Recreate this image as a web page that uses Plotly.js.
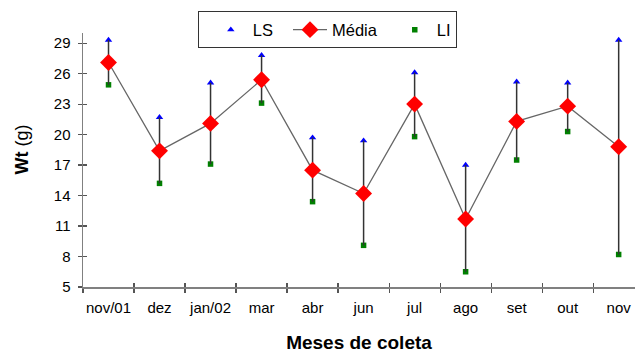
<!DOCTYPE html>
<html>
<head>
<meta charset="utf-8">
<script src="https://cdn.plot.ly/plotly-3.0.1.min.js"></script>
<style>html,body{margin:0;padding:0;background:#fff;}#chart{width:635px;height:353px;}</style>
</head>
<body>
<div id="chart"></div>
<script>
const months = ["nov/01","dez","jan/02","mar","abr","jun","jul","ago","set","out","nov"];
const LS    = [29.3, 21.7, 25.1, 27.8, 19.7, 19.4, 26.1, 17.0, 25.2, 25.1, 29.3];
const media = [27.1, 18.4, 21.1, 25.4, 16.5, 14.2, 23.0, 11.7, 21.3, 22.8, 18.8];
const LI    = [24.9, 15.2, 17.1, 23.1, 13.4,  9.1, 19.8,  6.5, 17.5, 20.3,  8.2];
const yTicks = [5, 8, 11, 14, 17, 20, 23, 26, 29];

const font = "Liberation Sans, Arial, sans-serif";

const tLS = {
  x: months, y: LS, name: "LS", type: "scatter", mode: "markers",
  marker: {symbol: "triangle-up", size: 6.5, color: "#0000ff"},
  cliponaxis: false, legendrank: 1
};
const tMedia = {
  x: months, y: media, name: "Média", type: "scatter", mode: "lines+markers",
  line: {color: "#666666", width: 1.3},
  marker: {symbol: "diamond", size: 13, color: "#ff0000"},
  error_y: {
    type: "data", symmetric: false,
    array: LS.map((v, i) => v - media[i]),
    arrayminus: media.map((v, i) => v - LI[i]),
    color: "#333333", thickness: 1.5, width: 0
  },
  cliponaxis: false, legendrank: 2
};
const tLI = {
  x: months, y: LI, name: "LI", type: "scatter", mode: "markers",
  marker: {symbol: "square", size: 5.5, color: "#008000"},
  cliponaxis: false, legendrank: 3
};
const tDummy = {
  x: months, y: media, xaxis: "x2", yaxis: "y2", showlegend: false,
  type: "scatter", mode: "markers", marker: {opacity: 0}, hoverinfo: "skip"
};

const layout = {
  width: 635, height: 353,
  margin: {l: 83, r: 0, t: 32.5, b: 66.3},
  paper_bgcolor: "#ffffff", plot_bgcolor: "#ffffff",
  font: {family: font, color: "#000000", size: 15},
  showlegend: true,
  legend: {
    orientation: "h", x: 0.208, y: 1.085, xanchor: "left", yanchor: "top",
    bordercolor: "#333333", borderwidth: 1, bgcolor: "#ffffff",
    font: {family: font, size: 16.5, color: "#000"},
    itemwidth: 34, indentation: 10
  },
  xaxis: {
    type: "category", range: [-0.5, 10.32], tickangle: 0,
    tickson: "boundaries", ticks: "outside", ticklen: 4, tickwidth: 1.2, tickcolor: "#555",
    showline: true, linecolor: "#808080", linewidth: 1.5,
    showgrid: false, zeroline: false,
    ticklabelstandoff: 6,
    tickfont: {family: font, size: 15, color: "#000"},
    title: {text: "<b>Meses de coleta</b>", font: {family: font, size: 19, color: "#000"}, standoff: 22}
  },
  yaxis: {
    range: [5, 30], tickmode: "array", tickvals: yTicks, ticktext: yTicks.map(String),
    ticks: "outside", ticklen: 4, tickwidth: 1.2, tickcolor: "#555",
    showline: true, linecolor: "#808080", linewidth: 1.5,
    showgrid: false, zeroline: false,
    ticklabelstandoff: 4,
    tickfont: {family: font, size: 15, color: "#000"}
  },
  xaxis2: {
    type: "category", overlaying: "x", matches: "x", anchor: "y2",
    tickson: "boundaries", ticks: "inside", ticklen: 4, tickwidth: 1.2, tickcolor: "#555",
    showticklabels: false, showline: false, showgrid: false, zeroline: false
  },
  yaxis2: {
    overlaying: "y", matches: "y", anchor: "x2", tickmode: "array", tickvals: yTicks,
    ticks: "inside", ticklen: 4, tickwidth: 1.2, tickcolor: "#555",
    showticklabels: false, showline: false, showgrid: false, zeroline: false
  },
  annotations: [{
    text: "<b>Wt</b> (g)", xref: "paper", yref: "paper",
    x: -61 / 552, y: (286.7 - 149) / 254.2, xanchor: "center", yanchor: "middle",
    textangle: -90, showarrow: false,
    font: {family: font, size: 18, color: "#000"}
  }]
};

Plotly.newPlot("chart", [tDummy, tLS, tLI, tMedia], layout, {displayModeBar: false, staticPlot: true});
</script>
</body>
</html>
